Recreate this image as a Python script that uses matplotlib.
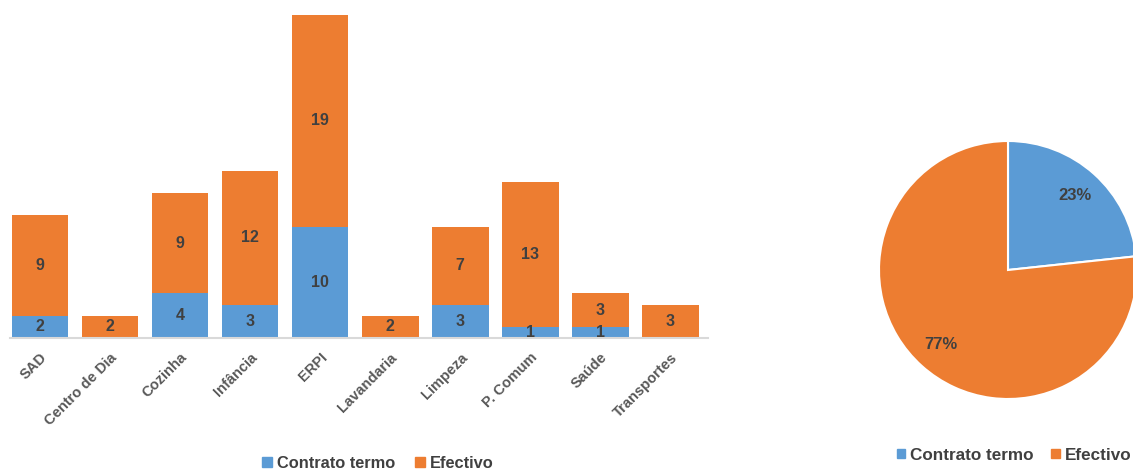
import matplotlib
matplotlib.use("Agg")
import matplotlib.pyplot as plt
from matplotlib.patches import Patch

categories = ["SAD", "Centro de Dia", "Cozinha", "Infância", "ERPI",
              "Lavandaria", "Limpeza", "P. Comum", "Saúde", "Transportes"]
contrato = [2, 0, 4, 3, 10, 0, 3, 1, 1, 0]
efectivo = [9, 2, 9, 12, 19, 2, 7, 13, 3, 3]
series_names = ["Contrato termo", "Efectivo"]

BLUE = "#5B9BD5"
ORANGE = "#ED7D31"
TEXT = "#404040"
TICK = "#595959"

plt.rcParams["font.family"] = ["Liberation Sans", "DejaVu Sans"]
plt.rcParams["font.weight"] = "bold"

W, H = 1133, 470
fig = plt.figure(figsize=(W / 100, H / 100), dpi=100)
fig.patch.set_facecolor("white")

# stacked bars
ax = fig.add_axes([10 / W, (H - 338) / H, 698 / W, 323 / H])
x = list(range(len(categories)))
ax.bar(x, contrato, width=0.81, color=BLUE, label=series_names[0])
ax.bar(x, efectivo, width=0.81, bottom=contrato, color=ORANGE, label=series_names[1])
ax.set_xlim(-0.43, 9.54)
ax.set_ylim(0, 29)
for i in x:
    if contrato[i] > 0:
        ax.text(i, contrato[i] / 2, str(contrato[i]), ha="center", va="center",
                fontsize=11.5, fontweight="bold", color=TEXT)
    if efectivo[i] > 0:
        ax.text(i, contrato[i] + efectivo[i] / 2, str(efectivo[i]), ha="center",
                va="center", fontsize=11.5, fontweight="bold", color=TEXT)
ax.set_xticks(x)
ax.set_xticklabels(categories, rotation=45, ha="right", rotation_mode="anchor",
                   fontsize=10.5, fontweight="bold", color=TICK)
ax.tick_params(axis="x", length=0, pad=9)
ax.set_yticks([])
for s in ["top", "right", "left"]:
    ax.spines[s].set_visible(False)
ax.spines["bottom"].set_color("#D9D9D9")
ax.spines["bottom"].set_linewidth(1.5)
ax.legend(handles=[Patch(color=BLUE), Patch(color=ORANGE)], labels=series_names,
          loc="center", bbox_to_anchor=(378 / W, (H - 463) / H),
          bbox_transform=fig.transFigure, ncol=2, frameon=False,
          handlelength=0.6, handleheight=0.6, handletextpad=0.3, columnspacing=1.2,
          prop={"size": 11.8, "weight": "bold"}, labelcolor=TEXT)

# pie
totals = [sum(contrato), sum(efectivo)]
r = 129
cx, cy = 1008, 270
ax2 = fig.add_axes([(cx - r) / W, (H - cy - r) / H, 2 * r / W, 2 * r / H])
ax2.pie(totals, colors=[BLUE, ORANGE], startangle=90,
        counterclock=False, autopct="%1.0f%%", pctdistance=0.78,
        wedgeprops={"edgecolor": "white", "linewidth": 1.5},
        textprops={"fontsize": 12, "fontweight": "bold", "color": TEXT})
ax2.set_xlim(-1, 1)
ax2.set_ylim(-1, 1)
ax2.set_aspect("equal")
fig.legend(handles=[Patch(color=BLUE), Patch(color=ORANGE)], labels=series_names,
           loc="center right", bbox_to_anchor=(1.0, (H - 455) / H), ncol=2, frameon=False,
           handlelength=0.5, handleheight=0.5, handletextpad=0.3, columnspacing=1.0,
           borderpad=0.1, borderaxespad=0.0,
           prop={"size": 12.3, "weight": "bold"}, labelcolor=TEXT)

fig.savefig("out.png", dpi=100)
